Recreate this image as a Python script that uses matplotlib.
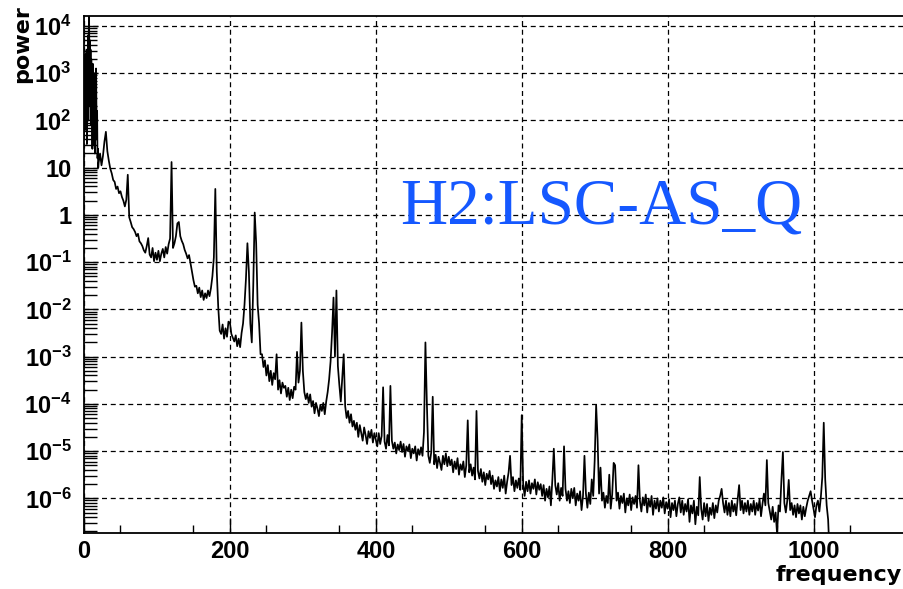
import numpy as np
import matplotlib
matplotlib.use("Agg")
import matplotlib.pyplot as plt
from matplotlib.ticker import FixedLocator, FuncFormatter, NullFormatter

plt.rcParams['font.family'] = ['Liberation Sans', 'DejaVu Sans']
plt.rcParams['mathtext.fontset'] = 'custom'
plt.rcParams['mathtext.rm'] = 'Liberation Sans:bold'
plt.rcParams['mathtext.bf'] = 'Liberation Sans:bold'

# log10(power) below 20 Hz, 0.5 Hz bins (0 .. 19.5)
low_step = 0.5
low_logp = [1.6, 3.0, 2.2, 3.4, 1.8, 3.2, 2.6, 3.5, 1.5, 3.3,
            2.4, 3.8, 2.0, 3.9, 4.2, 3.0, 3.7, 2.3, 3.5, 1.9,
            3.3, 2.5, 3.1, 1.4, 3.2, 2.2, 2.9, 1.5, 3.0, 2.0,
            1.3, 2.8, 1.7, 3.1, 2.4, 1.6, 2.2, 1.2, 1.4, 1.0]

# log10(power) from 20 Hz upward, 2 Hz bins (20 .. 1022)
main_start = 20
main_step = 2
main_logp = [
    1.10, 1.30, 1.05, 1.25, 1.55, 1.76, 1.35, 1.15, 0.98, 0.88, 0.74, 0.70, 0.55, 0.60, 0.46, 0.50,  # 20
    0.38, 0.30, 0.18, 0.32, 0.85, -0.05, -0.15, -0.26, -0.30, -0.36, -0.45, -0.40, -0.56, -0.60, -0.66, -0.75,  # 52
    -0.80, -0.66, -0.49, -0.84, -0.90, -0.70, -0.98, -0.80, -0.95, -0.76, -0.98, -0.82, -0.72, -0.90, -0.68, -0.82,  # 84
    -0.62, -0.50, 1.12, -0.70, -0.60, -0.45, -0.18, -0.15, -0.45, -0.55, -0.62, -0.74, -0.82, -0.92, -0.85, -1.02,  # 116
    -1.20, -1.38, -1.52, -1.50, -1.66, -1.54, -1.74, -1.60, -1.80, -1.66, -1.76, -1.60, -1.72, -1.55, -1.30, -0.90,  # 148
    0.55, -1.20, -1.95, -2.45, -2.52, -2.32, -2.62, -2.40, -2.58, -2.26, -2.28, -2.52, -2.60, -2.68, -2.55, -2.78,  # 180
    -2.62, -2.80, -2.50, -2.30, -1.90, -1.35, -0.60, -1.20, -2.30, -2.70, -1.50, 0.05, -0.60, -1.90, -2.30, -2.95,  # 212
    -2.95, -3.22, -3.08, -3.40, -3.18, -3.52, -3.30, -3.60, -3.35, -3.48, -2.95, -3.70, -3.50, -3.78, -3.55, -3.66,  # 244
    -3.62, -3.85, -3.66, -3.92, -3.70, -3.88, -3.64, -3.70, -2.90, -3.55, -3.30, -2.28, -3.30, -3.75, -3.90, -3.78,  # 276
    -3.98, -3.80, -4.06, -3.94, -4.20, -3.98, -4.10, -4.26, -4.02, -4.15, -3.98, -4.22, -3.95, -3.75, -3.48, -3.10,  # 308
    -2.50, -1.75, -3.00, -1.60, -3.20, -3.60, -3.95, -3.45, -2.95, -4.05, -4.30, -4.15, -4.40, -4.22, -4.48, -4.36,  # 340
    -4.55, -4.40, -4.70, -4.45, -4.62, -4.78, -4.50, -4.66, -4.85, -4.58, -4.72, -4.55, -4.82, -4.62, -4.76, -4.90,  # 372
    -4.62, -4.85, -4.68, -3.65, -4.80, -4.95, -4.66, -4.88, -3.62, -4.78, -4.95, -4.82, -5.05, -4.86, -4.98, -4.80,  # 404
    -5.02, -4.85, -5.12, -4.90, -5.00, -4.86, -5.15, -4.95, -5.05, -4.90, -5.20, -4.96, -5.08, -4.92, -5.10, -4.60,  # 436
    -2.70, -4.00, -5.10, -5.25, -5.02, -3.85, -5.28, -5.08, -5.36, -5.12, -5.25, -5.40, -5.10, -5.28, -5.05, -5.32,  # 468
    -5.12, -5.30, -5.18, -5.45, -5.22, -5.38, -5.15, -5.50, -5.28, -5.40, -5.22, -5.55, -5.30, -4.35, -5.45, -5.28,  # 500
    -5.52, -5.35, -5.60, -4.15, -5.42, -5.58, -5.38, -5.65, -5.45, -5.72, -5.48, -5.60, -5.42, -5.70, -5.52, -5.80,  # 532
    -5.62, -5.75, -5.55, -5.85, -5.60, -5.78, -5.52, -5.90, -5.65, -5.45, -5.10, -5.72, -5.55, -5.85, -5.62, -5.78,  # 564
    -5.58, -5.82, -4.24, -5.70, -5.95, -5.65, -5.85, -5.62, -5.90, -5.68, -5.80, -5.60, -5.92, -5.66, -5.82, -5.70,  # 596
    -5.95, -5.72, -6.05, -5.80, -5.98, -5.75, -6.15, -5.60, -4.95, -5.72, -5.92, -5.68, -6.05, -5.78, -5.95, -4.90,  # 628
    -5.80, -6.05, -5.85, -6.10, -5.80, -6.00, -5.78, -6.15, -5.90, -6.05, -5.85, -6.25, -5.95, -5.10, -5.90, -6.20,  # 660
    -5.88, -6.12, -5.60, -5.95, -5.20, -4.03, -4.75, -5.90, -5.35, -6.05, -5.88, -6.20, -5.95, -6.10, -5.50, -6.22,  # 692
    -5.92, -5.25, -5.30, -6.05, -5.88, -6.22, -5.95, -6.10, -5.90, -6.30, -6.00, -6.15, -5.92, -6.25, -5.98, -6.12,  # 724
    -5.95, -6.20, -5.30, -6.05, -6.28, -5.98, -6.15, -5.92, -6.30, -6.02, -6.18, -5.95, -6.35, -6.05, -6.22, -6.00,  # 756
    -6.28, -6.05, -6.20, -5.98, -6.32, -6.08, -6.22, -6.02, -6.40, -6.10, -6.25, -6.05, -6.38, -6.12, -5.98, -6.30,  # 788
    -6.05, -6.35, -6.12, -6.28, -6.02, -6.50, -6.15, -6.32, -6.05, -6.55, -6.18, -6.36, -5.55, -6.22, -6.45, -6.10,  # 820
    -6.38, -6.12, -6.48, -6.20, -6.35, -6.10, -6.42, -6.15, -6.30, -6.05, -5.95, -5.80, -6.10, -6.30, -6.05, -6.35,  # 852
    -6.10, -6.38, -6.05, -6.28, -6.12, -6.36, -6.02, -5.72, -6.25, -6.05, -6.32, -6.10, -6.28, -6.05, -6.35, -6.12,  # 884
    -6.28, -6.05, -6.35, -6.10, -6.26, -6.02, -6.38, -6.12, -5.90, -6.15, -5.19, -6.10, -6.28, -6.45, -6.18, -6.50,  # 916
    -6.30, -6.75, -6.15, -6.28, -5.60, -5.02, -6.10, -6.30, -6.05, -5.61, -6.25, -6.10, -6.35, -6.15, -6.40, -6.12,  # 948
    -6.32, -6.15, -6.45, -6.18, -6.38, -6.20, -6.05, -5.95, -5.85, -6.05, -6.22, -6.40, -6.15, -6.05, -6.28, -5.98,  # 980
    -5.55, -4.40, -5.60, -6.15, -6.45, -7.20,  # 1012
]

x_ticks = [0, 200, 400, 600, 800, 1000]
y_decades = list(range(-6, 5))
x_label = "frequency"
y_label = "power"
channel = "H2:LSC-AS_Q"

freq = np.concatenate([np.arange(len(low_logp)) * low_step,
                       main_start + np.arange(len(main_logp)) * main_step])
power = 10.0 ** np.array(low_logp + main_logp)

fig = plt.figure(figsize=(9.04, 5.89), dpi=100)
ax = fig.add_axes([84 / 904, 55.7 / 589, 820 / 904, 517.6 / 589])

ax.plot(freq, power, color="black", lw=1.25)

ax.set_yscale("log")
ax.set_xlim(0, 1124)
ax.set_ylim(10 ** -6.741, 10 ** 4.218)

# ticks: ROOT style, inward, left and bottom only
ax.xaxis.set_major_locator(FixedLocator(x_ticks))
ax.xaxis.set_minor_locator(FixedLocator(np.arange(50, 1124, 100)))
ax.yaxis.set_major_locator(FixedLocator([10.0 ** e for e in y_decades]))
minor_y = [m * 10.0 ** e for e in range(-7, 5) for m in range(2, 10)]
ax.yaxis.set_minor_locator(FixedLocator(minor_y))
ax.yaxis.set_minor_formatter(NullFormatter())


def fmt(v, pos):
    e = int(round(np.log10(v)))
    if e == 0:
        return "1"
    if e == 1:
        return "10"
    return r"$\mathbf{10^{%d}}$" % e


ax.yaxis.set_major_formatter(FuncFormatter(fmt))
ax.tick_params(axis="both", which="both", direction="in", top=False, right=False,
               color="black", width=1.0, labelsize=17)
ax.tick_params(axis="x", which="major", length=11, pad=5)
ax.tick_params(axis="x", which="minor", length=6)
ax.tick_params(axis="y", which="major", length=10, pad=9)
ax.tick_params(axis="y", which="minor", length=9)
for lab in ax.get_xticklabels() + ax.get_yticklabels():
    lab.set_fontweight("bold")

ax.grid(True, which="major", color="black", lw=0.9, linestyle=(0, (4, 3)))
for side in ["left", "bottom", "top", "right"]:
    ax.spines[side].set_linewidth(1.3)
    ax.spines[side].set_color("black")

fig.text(902 / 904, 8 / 589, x_label, ha="right", va="baseline",
         fontsize=16, fontweight="bold", family="DejaVu Sans")
fig.text(22 / 904, 1 - 5 / 589, y_label, ha="center", va="top", rotation=90,
         fontsize=16, fontweight="bold", family="DejaVu Sans")
fig.text(400 / 904, 1 - 223 / 589, channel, ha="left", va="baseline",
         fontsize=47, color="#1558ff", family=["Liberation Serif", "DejaVu Serif"])

fig.savefig("out.png", dpi=100)
